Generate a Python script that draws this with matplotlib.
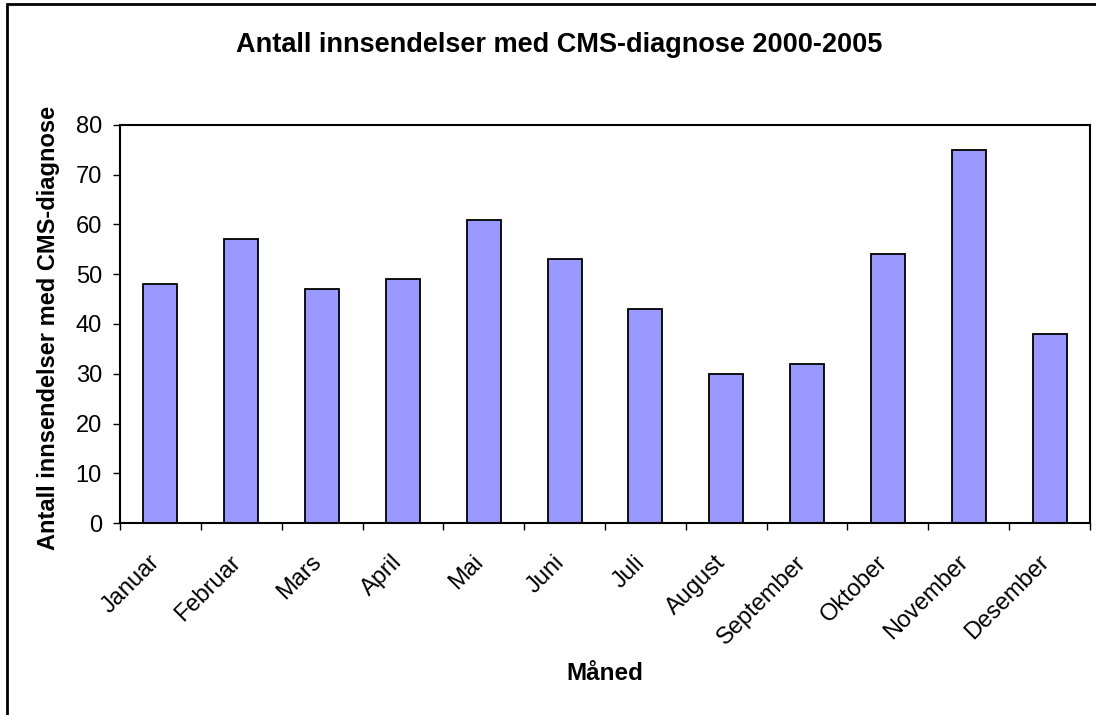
import matplotlib.pyplot as plt
import matplotlib.transforms as mtransforms
import numpy as np
from matplotlib.patches import Rectangle

plt.rcParams['font.family'] = ['Liberation Sans', 'DejaVu Sans']

# data
months = ["Januar", "Februar", "Mars", "April", "Mai", "Juni", "Juli",
          "August", "September", "Oktober", "November", "Desember"]
counts = [48, 57, 47, 49, 61, 53, 43, 30, 32, 54, 75, 38]
y_ticks = [0, 10, 20, 30, 40, 50, 60, 70, 80]

W, H = 1096, 715
fig = plt.figure(figsize=(W / 100, H / 100), dpi=100)
fig.patch.set_facecolor("white")

# outer chart frame (cut off at right and bottom in the reference)
fig.add_artist(Rectangle((7 / W, -0.05), 1.2, 1 - 4 / H + 0.05,
                         transform=fig.transFigure, fill=False,
                         edgecolor="black", linewidth=2))

ax = fig.add_axes([120 / W, 1 - 523 / H, (1090 - 120) / W, (523 - 125) / H])
x = np.arange(len(months))
ax.bar(x, counts, width=0.42, color="#9999FF", edgecolor="black", linewidth=1.3)

ax.set_xlim(-0.5, len(months) - 0.5)
ax.set_ylim(0, 80)
ax.set_yticks(y_ticks)
ax.tick_params(axis="y", labelsize=17, direction="out", length=5, width=1, pad=8)

# category ticks sit between bars, labels on the centres
ax.set_xticks(np.arange(len(months) + 1) - 0.5)
ax.set_xticklabels([])
ax.set_xticks(x, minor=True)
ax.set_xticklabels(months, minor=True, rotation=45, ha="right", va="center",
                   rotation_mode="anchor", fontsize=17)
ax.tick_params(axis="x", which="major", direction="out", length=5, width=1)
ax.tick_params(axis="x", which="minor", length=0, pad=26)
shift = mtransforms.ScaledTranslation(-4 / 100, 0, fig.dpi_scale_trans)
for lab in ax.get_xticklabels(minor=True):
    lab.set_transform(lab.get_transform() + shift)

for s in ax.spines.values():
    s.set_linewidth(1.5)

ax.set_xlabel("Måned", fontsize=17.5, fontweight="bold", va="center")
ax.xaxis.set_label_coords(0.5, (523 - 673) / 398)
ax.set_ylabel("Antall innsendelser med CMS-diagnose", fontsize=17,
              fontweight="bold", va="center")
ax.yaxis.set_label_coords((49 - 120) / 970, (523 - 328) / 398)

fig.text(559 / W, 1 - 45 / H, "Antall innsendelser med CMS-diagnose 2000-2005",
         ha="center", va="center", fontsize=19.5, fontweight="bold")

fig.savefig("out.png", dpi=100)
